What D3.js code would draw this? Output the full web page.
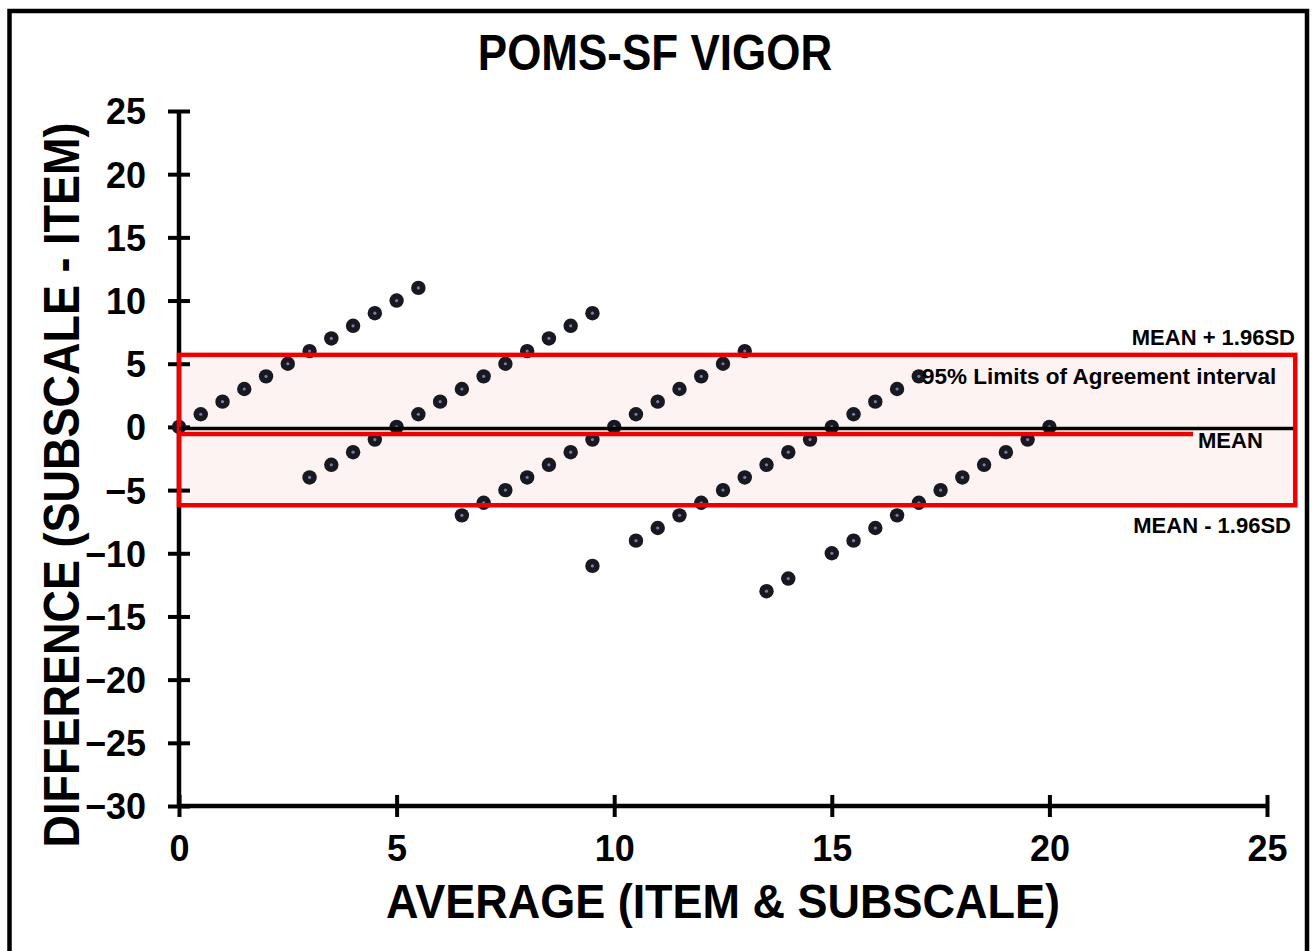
<!DOCTYPE html>
<html>
<head>
<meta charset="utf-8">
<script src="https://cdn.jsdelivr.net/npm/d3@7"></script>
<style>
  html, body { margin: 0; padding: 0; background: #fff; }
  svg { display: block; }
  text { font-family: "Liberation Sans", Arial, sans-serif; font-weight: bold; fill: #000; }
</style>
</head>
<body>
<svg id="chart" width="1312" height="951"></svg>
<script>
// ---- data ----
const titleText = "POMS-SF VIGOR";
const xLabel = "AVERAGE (ITEM & SUBSCALE)";
const yLabel = "DIFFERENCE (SUBSCALE - ITEM)";
const xTicks = [0, 5, 10, 15, 20, 25];
const yTicks = [25, 20, 15, 10, 5, 0, -5, -10, -15, -20, -25, -30];

// points: averages and differences
const avgValues = [
  0, 0.5, 1, 1.5, 2, 2.5, 3, 3.5, 4, 4.5, 5, 5.5,
  3, 3.5, 4, 4.5, 5, 5.5, 6, 6.5, 7, 7.5, 8, 8.5, 9, 9.5,
  6.5, 7, 7.5, 8, 8.5, 9, 9.5, 10, 10.5, 11, 11.5, 12, 12.5, 13,
  9.5, 10.5, 11, 11.5, 12, 12.5, 13, 13.5, 14, 14.5, 15, 15.5, 16, 16.5, 17,
  13.5, 14, 15, 15.5, 16, 16.5, 17, 17.5, 18, 18.5, 19, 19.5, 20
];
const diffValues = [
  0, 1, 2, 3, 4, 5, 6, 7, 8, 9, 10, 11,
  -4, -3, -2, -1, 0, 1, 2, 3, 4, 5, 6, 7, 8, 9,
  -7, -6, -5, -4, -3, -2, -1, 0, 1, 2, 3, 4, 5, 6,
  -11, -9, -8, -7, -6, -5, -4, -3, -2, -1, 0, 1, 2, 3, 4,
  -13, -12, -10, -9, -8, -7, -6, -5, -4, -3, -2, -1, 0
];

const meanDiff = -0.4;
const upperLoA = 5.7;
const lowerLoA = -6.2;
const boxXExtent = [0, 25.65];
const meanLineXExtent = [0, 23.3];
const zeroLineXExtent = [0, 25.6];

const upperLabel = "MEAN + 1.96SD";
const lowerLabel = "MEAN - 1.96SD";
const meanLabel = "MEAN";
const intervalLabel = "95% Limits of Agreement interval";

// ---- layout ----
const svg = d3.select("#chart");
const x = d3.scaleLinear().domain([0, 25]).range([179, 1267]);
const y = d3.scaleLinear().domain([-30, 25]).range([806, 111]);

// outer frame
svg.append("rect")
  .attr("x", 9.5).attr("y", 11).attr("width", 1297.5).attr("height", 960)
  .attr("fill", "none").attr("stroke", "#000").attr("stroke-width", 4.5);

// title
svg.append("text")
  .attr("transform", "translate(655,70) scale(1,1.12)")
  .attr("text-anchor", "middle")
  .style("font-size", "44px")
  .text(titleText);

// LoA box fill
svg.append("rect")
  .attr("x", x(boxXExtent[0])).attr("y", y(upperLoA))
  .attr("width", x(boxXExtent[1]) - x(boxXExtent[0]))
  .attr("height", y(lowerLoA) - y(upperLoA))
  .attr("fill", "#fdf3f2");

// axes
const yAxis = d3.axisLeft(y).tickValues(yTicks).tickSize(0).tickFormat(d3.format("d"));
const xAxis = d3.axisBottom(x).tickValues(xTicks).tickSize(0).tickFormat(d3.format("d"));

const gy = svg.append("g").attr("transform", `translate(${x(0)},0)`).call(yAxis);
gy.select(".domain").remove();
gy.selectAll(".tick text")
  .attr("x", -33).attr("dy", "0.36em")
  .style("font-size", "36px").style("font-family", "Liberation Sans, Arial, sans-serif")
  .style("font-weight", "bold").attr("fill", "#000");
gy.selectAll(".tick").append("line")
  .attr("x1", -11).attr("x2", 11).attr("stroke", "#000").attr("stroke-width", 4);

const gx = svg.append("g").attr("transform", `translate(0,${y(-30)})`).call(xAxis);
gx.select(".domain").remove();
gx.selectAll(".tick text")
  .attr("y", 29).attr("dy", "0.71em")
  .style("font-size", "36px").style("font-family", "Liberation Sans, Arial, sans-serif")
  .style("font-weight", "bold").attr("fill", "#000");
gx.selectAll(".tick").append("line")
  .attr("y1", -11).attr("y2", 11).attr("stroke", "#000").attr("stroke-width", 4);

// axis lines
svg.append("line")
  .attr("x1", x(0)).attr("x2", x(0)).attr("y1", y(25)).attr("y2", y(-30))
  .attr("stroke", "#000").attr("stroke-width", 4.5);
svg.append("line")
  .attr("x1", x(0)).attr("x2", x(25)).attr("y1", y(-30)).attr("y2", y(-30))
  .attr("stroke", "#000").attr("stroke-width", 4.5);

// points
const pts = avgValues.map((a, i) => ({ a, d: diffValues[i] }));
const gp = svg.append("g");
gp.selectAll("circle.outer").data(pts).join("circle")
  .attr("class", "outer")
  .attr("cx", p => x(p.a)).attr("cy", p => y(p.d))
  .attr("r", 7.2).attr("fill", "#181820");
gp.selectAll("circle.inner").data(pts).join("circle")
  .attr("class", "inner")
  .attr("cx", p => x(p.a)).attr("cy", p => y(p.d))
  .attr("r", 1.6).attr("fill", "#7a7aa8");

// LoA box stroke
svg.append("rect")
  .attr("x", x(boxXExtent[0])).attr("y", y(upperLoA))
  .attr("width", x(boxXExtent[1]) - x(boxXExtent[0]))
  .attr("height", y(lowerLoA) - y(upperLoA))
  .attr("fill", "none").attr("stroke", "#ee0000").attr("stroke-width", 4.5);

// mean line (red)
svg.append("line")
  .attr("x1", x(meanLineXExtent[0])).attr("x2", x(meanLineXExtent[1]))
  .attr("y1", y(meanDiff) + 2).attr("y2", y(meanDiff) + 2)
  .attr("stroke", "#ee0000").attr("stroke-width", 4.5);

// zero line (black)
svg.append("line")
  .attr("x1", x(zeroLineXExtent[0])).attr("x2", x(zeroLineXExtent[1]))
  .attr("y1", y(0) + 1.5).attr("y2", y(0) + 1.5)
  .attr("stroke", "#000").attr("stroke-width", 3.5);

// annotations
svg.append("text").attr("x", 1295).attr("y", 345).attr("text-anchor", "end")
  .style("font-size", "22px").text(upperLabel);
svg.append("text").attr("x", 1291).attr("y", 533).attr("text-anchor", "end")
  .style("font-size", "22px").text(lowerLabel);
svg.append("text").attr("x", 1198).attr("y", 448)
  .style("font-size", "22px").text(meanLabel);
svg.append("text").attr("x", 922).attr("y", 384)
  .style("font-size", "22.5px").text(intervalLabel);

// axis labels
svg.append("text")
  .attr("transform", "translate(723,918) scale(1,1.05)")
  .attr("text-anchor", "middle")
  .style("font-size", "45px").text(xLabel);
svg.append("text")
  .attr("transform", "translate(79,485) rotate(-90) scale(1,1.1)")
  .attr("text-anchor", "middle")
  .style("font-size", "45px").text(yLabel);
</script>
</body>
</html>
